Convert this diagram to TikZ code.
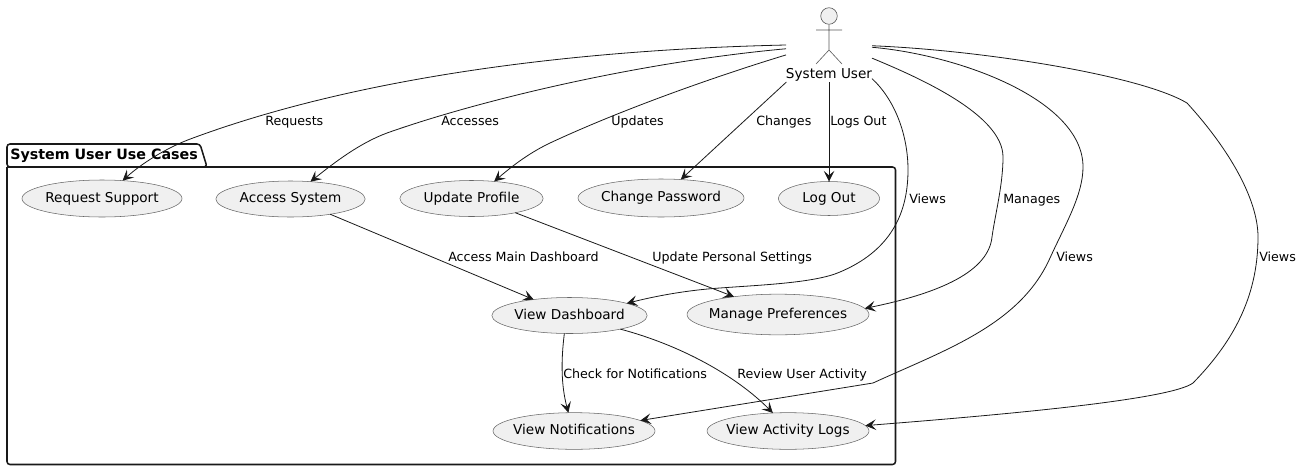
\documentclass[tikz,border=0pt]{standalone}
\usepackage{fontspec}
\setmainfont{DejaVu Sans}
\usetikzlibrary{arrows.meta,shapes.geometric}
\begin{document}
\begin{tikzpicture}[x=0.75pt, y=-0.75pt, line join=round, >={Stealth[length=8pt,width=8pt,inset=3.4pt]},
	textbox/.style={text height=7.5pt, text depth=2pt},
	usecase/.style={ellipse, draw=black!60, line width=0.4pt, fill=black!6, inner xsep=-5pt, inner ysep=0pt, outer sep=0pt, textbox, font=\fontsize{10.2}{12}\selectfont},
	edgetext/.style={anchor=west, inner sep=0pt, text height=8pt, text depth=1.5pt, font=\fontsize{9.5}{12}\selectfont},
	link/.style={->, draw=black!90, line width=0.6pt},
	actorline/.style={draw=black!65, line width=0.45pt}]
	\useasboundingbox (0,0) rectangle (1302,471);
	% package
	\draw[line width=1.15pt, rounded corners=2.2pt, draw=black!90] (7,167) -- (7,144) -- (200,144) -- (207,167) -- cycle;
	\draw[line width=1.15pt, rounded corners=2.2pt, draw=black!90] (7,167) -- (7,464.5) -- (895.5,464.5) -- (895.5,167) -- (7,167);
	\node[anchor=west, inner sep=0pt, textbox, font=\bfseries\fontsize{10.7}{12}\selectfont] (pkgtitle) at (10,156.3) {System User Use Cases};
	% actor
	\node[circle, draw=black!65, fill=black!6, line width=0.45pt, minimum size=12.4pt, inner sep=0pt] (head) at (829,16) {};
	\coordinate (hip) at (829,50);
	\draw[actorline] (head.south) -- (hip) (816,30) -- (842,30) (816,64) -- (hip) -- (842,64);
	\node[minimum width=64.5pt, minimum height=55.5pt, inner sep=0pt, outer sep=0pt] (user) at (829,45) {};
	\node[inner sep=0pt, textbox, font=\fontsize{10.2}{12}\selectfont] (userlabel) at (829,74.6) {System User};
	% use cases
	\node[usecase, minimum width=120pt, minimum height=27.75pt] (support) at (102,198.5) {Request Support};
	\node[usecase, minimum width=112pt, minimum height=27pt] (access) at (290.5,199) {Access System};
	\node[usecase, minimum width=107.5pt, minimum height=27pt] (profile) at (471.5,198.5) {Update Profile};
	\node[usecase, minimum width=124.5pt, minimum height=28.5pt] (password) at (661,198) {Change Password};
	\node[usecase, minimum width=76pt, minimum height=25.5pt] (logout) at (829,198.5) {Log Out};
	\node[usecase, minimum width=116.5pt, minimum height=27pt] (dashboard) at (569.5,315.5) {View Dashboard};
	\node[usecase, minimum width=136.5pt, minimum height=30.5pt] (prefs) at (778,314.5) {Manage Preferences};
	\node[usecase, minimum width=121.5pt, minimum height=27.5pt] (notifs) at (574,431) {View Notifications};
	\node[usecase, minimum width=121.5pt, minimum height=27.5pt] (logs) at (788,431) {View Activity Logs};
	% from the actor
	\draw[link] (user.180) .. controls (560,50) and (350,80) .. (193,138) .. controls (165,148) and (140,165) .. (support.41);
	\draw[link] (user.185) .. controls (640,62) and (480,100) .. (387,133) .. controls (360,143) and (335,162) .. (access.41);
	\draw[link] (user.193) .. controls (720,75) and (625,108) .. (550,143) .. controls (527,154) and (510,168) .. (profile.37);
	\draw[link] (user.221.4) -- (password.43);
	\draw[link] (user.south) -- (logout.north);
	\draw[link] (user.-38) .. controls (895,100) and (908,135) .. (908,170) .. controls (908,225) and (880,255) .. (840,272) .. controls (815,283) and (760,285) .. (720,288) .. controls (690,290) and (660,295) .. (dashboard.12);
	\draw[link] (user.-17) .. controls (920,78) and (1003,115) .. (1003,157) .. controls (1003,185) and (995,215) .. (992,237) .. controls (988,275) and (930,295) .. (prefs.4);
	\draw[link] (user.-3) .. controls (960,55) and (1083,100) .. (1083,167) .. controls (1083,195) and (1065,225) .. (1050,258) .. controls (1020,325) and (945,350) .. (873,383) -- (notifs.9.5);
	\draw[link] (user.-1) .. controls (980,50) and (1140,75) .. (1187,103) .. controls (1230,150) and (1258,200) .. (1258,237) .. controls (1258,300) and (1230,345) .. (1193,383) .. controls (1170,400) and (1000,415) .. (logs.4);
	% between use cases
	\draw[link] (access.-21) -- (dashboard.156.6);
	\draw[link] (profile.-18.4) -- (prefs.158);
	\draw[link] (dashboard.254) .. controls (561,360) and (561,385) .. (notifs.107);
	\draw[link] (dashboard.-15.6) .. controls (680,345) and (735,375) .. (logs.130);
	% labels
	\node[edgetext] (requests) at (265,121) {Requests};
	\node[edgetext] (accesses) at (441,121) {Accesses};
	\node[edgetext] (updates) at (611,121) {Updates};
	\node[edgetext] (changes) at (756,121) {Changes};
	\node[edgetext] (logsout) at (830,121) {Logs Out};
	\node[edgetext] (viewsa) at (909,199) {Views};
	\node[edgetext] (manages) at (1003,199) {Manages};
	\node[edgetext] (viewsb) at (1056,257) {Views};
	\node[edgetext] (viewsc) at (1259,257) {Views};
	\node[edgetext] (mainboard) at (448,257) {Access Main Dashboard};
	\node[edgetext] (settings) at (652,257) {Update Personal Settings};
	\node[edgetext] (checknote) at (563,374) {Check for Notifications};
	\node[edgetext] (review) at (737,374) {Review User Activity};
\end{tikzpicture}
\end{document}
